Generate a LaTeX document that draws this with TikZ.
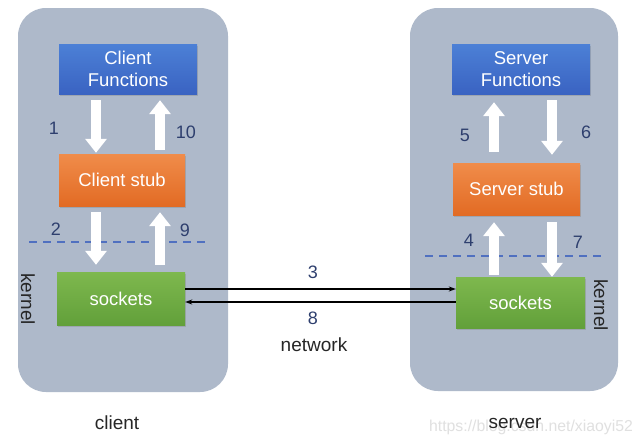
\documentclass[tikz,border=0pt]{standalone}
\usepackage{fontspec}
\setmainfont{Liberation Sans}
\usetikzlibrary{arrows.meta,shadows,calc}
\definecolor{panel}{HTML}{AEB9CA}
\definecolor{numc}{HTML}{2E3F6E}
\definecolor{dashc}{HTML}{5070C0}
\tikzset{
  boxbase/.style={minimum height=50pt,text=white,align=center,inner sep=0pt,
    font=\fontsize{18.5}{21.5}\selectfont,
    drop shadow={opacity=0.35,shadow xshift=1pt,shadow yshift=-2pt}},
  bluebox/.style={boxbase,top color=HTMLblueT,bottom color=HTMLblueB},
  orangebox/.style={boxbase,top color=HTMLorT,bottom color=HTMLorB},
  greenbox/.style={boxbase,top color=HTMLgrT,bottom color=HTMLgrB},
  flowarrow/.style={white,line width=10pt,-{Triangle[width=21pt,length=14pt]}},
  netarrow/.style={black,line width=1.1pt,-{Stealth[length=7pt,width=5pt]}},
  numlabel/.style={text=numc,font=\fontsize{18}{20}\selectfont},
  plainlabel/.style={text=black!85,font=\fontsize{19}{22}\selectfont},
  kernline/.style={dashc,line width=1.1pt,dash pattern=on 8pt off 6pt}
}
\definecolor{HTMLblueT}{HTML}{4C80D6}
\definecolor{HTMLblueB}{HTML}{3A63C2}
\definecolor{HTMLorT}{HTML}{F08C4A}
\definecolor{HTMLorB}{HTML}{E26B24}
\definecolor{HTMLgrT}{HTML}{7EB84E}
\definecolor{HTMLgrB}{HTML}{62A03A}
\begin{document}
\begin{tikzpicture}[x=1pt,y=-1pt]
\useasboundingbox[fill=white] (0,0) rectangle (643,447);
% panels
\fill[panel,rounded corners=28pt] (18,8) rectangle (228,392);
\fill[panel,rounded corners=28pt] (410,8) rectangle (618,391);
% client nodes
\node[bluebox,minimum width=138pt] (cf) at (128,69) {Client\\Functions};
\node[orangebox,minimum width=126pt,minimum height=52pt] (cs) at (122,180) {Client stub};
\node[greenbox,minimum width=128pt,minimum height=53pt] (ck) at (121,298.5) {sockets};
% server nodes
\node[bluebox,minimum width=138pt] (sf) at (521,69) {Server\\Functions};
\node[orangebox,minimum width=127pt,minimum height=52pt] (ss) at (516.5,189) {Server stub};
\node[greenbox,minimum width=129pt,minimum height=51pt] (sk) at (520.5,302.5) {sockets};
% dashed kernel boundaries
\coordinate (cdl) at (29,242);
\coordinate (cdr) at (207,242);
\coordinate (sdl) at (425,256);
\coordinate (sdr) at (605,256);
\draw[kernline] (cdl) -- (cdr);
\draw[kernline] (sdl) -- (sdr);
% client flow arrows
\draw[flowarrow] ($(96,0 |- cf.south)+(0,6)$) -- ($(96,0 |- cs.north)+(0,-1)$);
\draw[flowarrow] ($(160,0 |- cs.north)+(0,-4)$) -- ($(160,0 |- cf.south)+(0,6)$);
\draw[flowarrow] ($(96,0 |- cs.south)+(0,6)$) -- ($(96,0 |- ck.north)+(0,-7)$);
\draw[flowarrow] ($(160,0 |- ck.north)+(0,-7)$) -- ($(160,0 |- cs.south)+(0,6)$);
% server flow arrows
\draw[flowarrow] ($(494,0 |- ss.north)+(0,-11)$) -- ($(494,0 |- sf.south)+(0,8)$);
\draw[flowarrow] ($(552,0 |- sf.south)+(0,6)$) -- ($(552,0 |- ss.north)+(0,-8)$);
\draw[flowarrow] ($(494,0 |- sk.north)+(0,-2)$) -- ($(494,0 |- ss.south)+(0,7)$);
\draw[flowarrow] ($(552,0 |- ss.south)+(0,7)$) -- ($(552,0 |- sk.north)+(0,0)$);
% network arrows
\draw[netarrow] (ck.east |- 0,289) -- (sk.west |- 0,289);
\draw[netarrow] (sk.west |- 0,302) -- (ck.east |- 0,302);
% numbers
\node[numlabel] (n1) at (54,128) {1};
\node[numlabel] (n10) at (186,132) {10};
\node[numlabel] (n2) at (56,229) {2};
\node[numlabel] (n9) at (185,230) {9};
\node[numlabel] (n5) at (465,135) {5};
\node[numlabel] (n6) at (586,132) {6};
\node[numlabel] (n4) at (469,240) {4};
\node[numlabel] (n7) at (578,242) {7};
\node[numlabel] (n3) at (313,272) {3};
\node[numlabel] (n8) at (313,318) {8};
% plain labels
\node[plainlabel] (net) at (314,345) {network};
\node[plainlabel,rotate=-90] (kc) at (28,299) {kernel};
\node[plainlabel,rotate=-90] (ks) at (601,305) {kernel};
\node[plainlabel] (cl) at (117,423) {client};
\node[text=black!12,font=\fontsize{15.8}{17}\selectfont] (wm) at (531,427) {https://blog.csdn.net/xiaoyi52};
\node[plainlabel] (sv) at (515,423) {server};
\end{tikzpicture}
\end{document}
